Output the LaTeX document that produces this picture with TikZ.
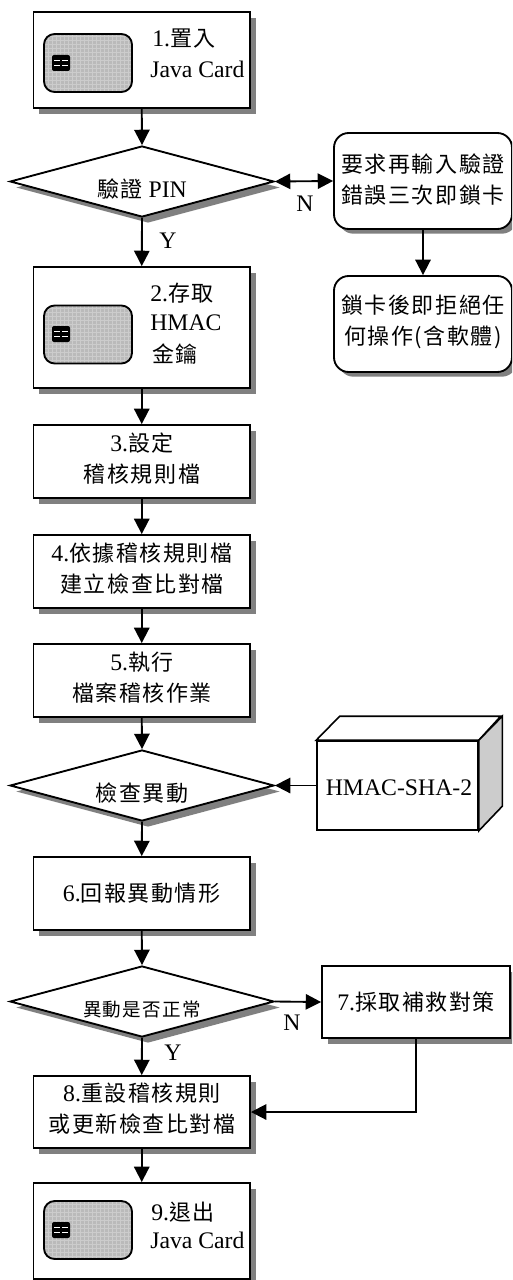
\documentclass[tikz,border=0pt]{standalone}
\usepackage{fontspec}
\setmainfont{Liberation Serif}
\newfontfamily\cjk[Scale=0.927,LetterSpace=7]{Noto Sans CJK TC}
\newcommand{\zh}[1]{{\cjk #1}}
\usetikzlibrary{shapes.geometric,shadows,arrows.meta,patterns}
\definecolor{shade}{HTML}{808080}
\definecolor{cardgray}{HTML}{BABABA}
\definecolor{cubegray}{HTML}{CCCCCC}
\tikzset{
  x=0.75pt,y=-0.75pt,
  every node/.style={font=\fontsize{17.8pt}{23.25pt}\selectfont,inner sep=0pt,align=center},
  flowline/.style={line width=1.4pt,-{Triangle[length=11.5pt,width=11.5pt]}},
  dblline/.style={line width=1.4pt,{Triangle[length=11.5pt,width=11.5pt]}-{Triangle[length=11.5pt,width=11.5pt]}},
  shade/.style={drop shadow={shadow xshift=4.5pt,shadow yshift=-4.5pt,fill=shade,opacity=1}},
  procbox/.style={draw,fill=white,line width=1.4pt,rectangle,minimum width=162.4pt,shade},
  decision/.style={draw,fill=white,line width=1.4pt,diamond,aspect=3.73,minimum width=198pt,minimum height=53.25pt,shade},
  roundbox/.style={draw,fill=white,line width=1.4pt,rectangle,rounded corners=11pt,minimum width=133.5pt,minimum height=72pt,drop shadow={shadow xshift=3.5pt,shadow yshift=-3.5pt,fill=shade,opacity=1}},
  cardbody/.style={draw,line width=1.4pt,rectangle,rounded corners=8pt,minimum width=66pt,minimum height=43.5pt,preaction={fill=cardgray},preaction={pattern=grid,pattern color=cubegray}},
  chip/.style={fill=black,rectangle,rounded corners=1.5pt,minimum width=13.5pt,minimum height=12pt},
  lbl/.style={},
  smalllbl/.style={font=\fontsize{15pt}{18pt}\selectfont}
}
\newcommand{\chipat}[2]{%
  \node[chip] (#2) at (#1) {};
  \draw[white,line width=0.8pt] ([xshift=-5pt,yshift=2pt]#2.center) -- ++(4.2pt,0);
  \draw[white,line width=0.8pt] ([xshift=-5pt,yshift=-2pt]#2.center) -- ++(4.2pt,0);
  \draw[white,line width=0.8pt] ([xshift=0.8pt,yshift=2pt]#2.center) -- ++(4.2pt,0);
  \draw[white,line width=0.8pt] ([xshift=0.8pt,yshift=-2pt]#2.center) -- ++(4.2pt,0);
}
\begin{document}
\begin{tikzpicture}
\useasboundingbox (0,0) rectangle (512,1280);
\fill[white] (0,0) rectangle (512,1280);
\clip (0,0) rectangle (512,1280);

% boxes
\node[procbox,minimum height=71.8pt] (b1) at (141.75,59.8) {};
\node[cardbody] (card1) at (88,63) {};
\chipat{61,63}{chip1}
\node[lbl,anchor=west] (t1) at (152,39) {1.\zh{置入}};
\node[lbl,anchor=west] (t1b) at (150,69) {Java Card};

\node[decision] (d1) at (142,181.5) {};
\node[lbl] (td1) at (142,189) {\zh{驗證} PIN};

\node[procbox,minimum height=90.75pt] (b2) at (141.75,327.5) {};
\node[cardbody] (card2) at (88,334.5) {};
\chipat{61,334}{chip2}
\node[lbl,anchor=west] (t2a) at (150,293) {2.\zh{存取}};
\node[lbl,anchor=west] (t2b) at (150,323) {HMAC};
\node[lbl,anchor=west] (t2c) at (152,354) {\zh{金鑰}};

\node[procbox,minimum height=54.75pt] (b3) at (141.75,461.5) {};
\node[lbl] (t3) at (142,458.5) {3.\zh{設定}\\\zh{稽核規則檔}};
\node[procbox,minimum height=54.75pt] (b4) at (141.75,571.5) {};
\node[lbl] (t4) at (142,569) {4.\zh{依據稽核規則檔}\\\zh{建立檢查比對檔}};
\node[procbox,minimum height=54.75pt] (b5) at (141.75,680.5) {};
\node[lbl] (t5) at (142,678) {5.\zh{執行}\\\zh{檔案稽核作業}};

\node[decision] (d2) at (142,785.5) {};
\node[lbl] (td2) at (142,793) {\zh{檢查異動}};

\node[procbox,minimum height=54.75pt] (b6) at (141.75,893.5) {6.\zh{回報異動情形}};

\node[decision] (d3) at (142,1001.5) {};
\node[lbl,smalllbl] (td3) at (142,1009) {\zh{異動是否正常}};

\node[procbox,minimum height=54pt] (b8) at (141.75,1112) {};
\node[lbl] (t8) at (142,1108.5) {8.\zh{重設稽核規則}\\\zh{或更新檢查比對檔}};

\node[procbox,minimum height=72pt] (b9) at (141.75,1231) {};
\node[cardbody] (card9) at (88,1230) {};
\chipat{61,1230}{chip9}
\node[lbl,anchor=west] (t9) at (151,1212) {9.\zh{退出}};
\node[lbl,anchor=west] (t9b) at (150,1240) {Java Card};

% right side
\node[roundbox] (r1) at (423,181) {};
\node[lbl] (tr1) at (423,180) {\zh{要求再輸入驗證}\\\zh{錯誤三次即鎖卡}};
\node[roundbox] (r2) at (423,324) {};
\node[lbl] (tr2) at (423,322) {\zh{鎖卡後即拒絕任}\\\zh{何操作(含軟體)}};

\node[draw,fill=white,line width=1.2pt,rectangle,minimum width=120.75pt,minimum height=66.75pt] (cube) at (397.5,785.5) {};
\node[lbl] (tcube) at (399,788) {HMAC-SHA-2};
\coordinate (cubeA) at (cube.north west);
\coordinate (cubeB) at (cube.north east);
\coordinate (cubeC) at (cube.south east);
\draw[line width=1.2pt,fill=white] (cubeA) -- ++(23.5,-24) -- ++(161,0) -- (cubeB) -- cycle;
\draw[line width=1.2pt,fill=cubegray] (cubeB) -- ++(23.5,-24) -- ++(0,90) -- (cubeC) -- cycle;

\node[draw,fill=white,line width=1.4pt,rectangle,minimum width=141pt,minimum height=54pt,shade] (b7) at (416,1002) {7.\zh{採取補救對策}};

% connectors
\draw[flowline] (b1.south) -- (d1.north);
\draw[flowline] (d1.south) -- (b2.north);
\draw[flowline] (b2.south) -- (b3.north);
\draw[flowline] (b3.south) -- (b4.north);
\draw[flowline] (b4.south) -- (b5.north);
\draw[flowline] (b5.south) -- (d2.north);
\draw[flowline] (d2.south) -- (b6.north);
\draw[flowline] (b6.south) -- (d3.north);
\draw[flowline] (d3.south) -- (b8.north);
\draw[flowline] (b8.south) -- (b9.north);
\draw[dblline] (d1.east) -- (r1.west);
\draw[flowline] (r1.south) -- (r2.north);
\draw[flowline] (cube.west) -- (d2.east);
\draw[flowline] (d3.east) -- (b7.west);
\draw[flowline] (b7.south) |- (b8.east);

\node[lbl] (y1) at (168,241) {Y};
\node[lbl] (n1) at (305,204) {N};
\node[lbl] (n2) at (292,1023) {N};
\node[lbl] (y2) at (173,1053) {Y};
\end{tikzpicture}
\end{document}
